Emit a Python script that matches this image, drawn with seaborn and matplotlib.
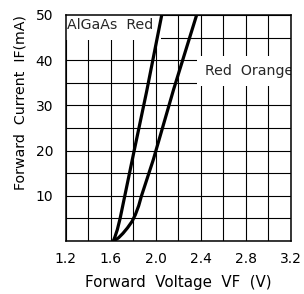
import matplotlib
matplotlib.use('Agg')
import matplotlib.pyplot as plt
import pandas as pd
import seaborn as sns
from matplotlib.ticker import MultipleLocator

sns.set_theme(style='white')
plt.rcParams['font.family'] = ['DejaVu Sans']

# Curvas I-V
vf_algaas = [1.625, 1.64, 1.66, 1.685, 1.735, 1.81, 1.92, 2.055]
if_algaas = [0, 1, 2.5, 5, 11, 20, 33, 50]
vf_redorange = [1.625, 1.67, 1.71, 1.75, 1.79, 1.82, 1.85, 1.875, 1.98, 2.16, 2.365]
if_redorange = [0, 0.7, 1.7, 2.9, 4.3, 5.8, 7.8, 10, 18, 33.5, 50]

x_ticks = [1.2, 1.6, 2.0, 2.4, 2.8, 3.2]
y_ticks = [10, 20, 30, 40, 50]

df = pd.concat([
    pd.DataFrame({'VF': vf_algaas, 'IF': if_algaas, 'serie': 'AlGaAs Red'}),
    pd.DataFrame({'VF': vf_redorange, 'IF': if_redorange, 'serie': 'Red Orange'}),
], ignore_index=True)

fig = plt.figure(figsize=(3.04, 2.94), dpi=100)
ax = fig.add_axes([0.2155, 0.180, 0.7405, 0.769])

sns.lineplot(data=df, x='VF', y='IF', units='serie', estimator=None, sort=False,
             color='black', linewidth=2.3, legend=False, ax=ax, zorder=3)

ax.set_xlim(1.2, 3.2)
ax.set_ylim(0, 50)
ax.set_xticks(x_ticks)
ax.set_xticklabels([f'{v:.1f}' for v in x_ticks])
ax.xaxis.set_minor_locator(MultipleLocator(0.2))
ax.set_yticks(y_ticks)
ax.yaxis.set_minor_locator(MultipleLocator(5))

ax.set_axisbelow(True)
ax.grid(True, which='both', color='black', linewidth=0.8)
ax.tick_params(which='both', length=0, labelsize=10, colors='black')
ax.tick_params(axis='x', pad=8)
ax.tick_params(axis='y', pad=9)
for sp in ax.spines.values():
    sp.set_color('black')
    sp.set_linewidth(1.1)

ax.set_xlabel('Forward  Voltage  VF  (V)', fontsize=10.8, color='black', labelpad=6)
ax.set_ylabel('Forward  Current  IF(mA)', fontsize=10.2, color='black')
ax.yaxis.set_label_coords(-0.17, 0.613)

ax.text(1.215, 47.8, 'AlGaAs  Red', fontsize=10.2, va='center', ha='left', zorder=2.2,
        bbox=dict(facecolor='white', edgecolor='none', pad=5.5), clip_on=True)
ax.text(2.44, 37.6, 'Red  Orange', fontsize=10.2, va='center', ha='left', zorder=2.2,
        bbox=dict(facecolor='white', edgecolor='none', pad=5.5), clip_on=True)

plt.savefig('out.png', dpi=100)
plt.close()
